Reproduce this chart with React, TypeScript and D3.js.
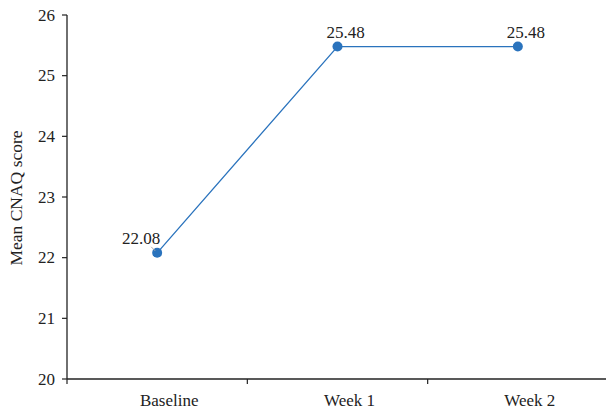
import React from "react";
import * as d3 from "d3";

const categories = ["Baseline", "Week 1", "Week 2"];
const values = [22.08, 25.48, 25.48];
const valueLabels = ["22.08", "25.48", "25.48"];
const yTicks = [20, 21, 22, 23, 24, 25, 26];

const W = 606;
const H = 411;
const FONT = "'Liberation Serif', 'Times New Roman', serif";
const FS = 17;

export default function App() {
  const x = d3.scaleBand<string>().domain(categories).range([67, 608]);
  const y = d3.scaleLinear().domain([20, 26]).range([379, 15]);
  const cx = (c: string) => (x(c) as number) + x.bandwidth() / 2;
  const line = d3
    .line<number>()
    .x((_, i) => cx(categories[i]))
    .y((d) => y(d));
  const color = "#2A73BD";
  return (
    <svg width={W} height={H} style={{ position: "absolute", left: 0, top: 0 }}>
      <rect width={W} height={H} fill="#fff" />
      {/* y axis */}
      <line x1={67} x2={67} y1={y(26)} y2={y(20)} stroke="#222" strokeWidth={1.3} />
      {yTicks.map((t) => (
        <g key={t}>
          <line x1={62} x2={67} y1={y(t)} y2={y(t)} stroke="#222" strokeWidth={1.2} />
          <text x={55} y={y(t) + 5.5} textAnchor="end" fontFamily={FONT} fontSize={FS} fill="#222">
            {t}
          </text>
        </g>
      ))}
      {/* x axis */}
      <line x1={67} x2={606} y1={y(20)} y2={y(20)} stroke="#222" strokeWidth={1.3} />
      {categories.map((c) => (
        <g key={c}>
          <line x1={x(c)} x2={x(c)} y1={y(20)} y2={y(20) + 5} stroke="#222" strokeWidth={1.2} />
          <text x={cx(c) + 12} y={406} textAnchor="middle" fontFamily={FONT} fontSize={FS} fill="#222">
            {c}
          </text>
        </g>
      ))}
      <text
        transform={`translate(22,198) rotate(-90)`}
        textAnchor="middle"
        fontFamily={FONT}
        fontSize={17.5}
        fill="#222"
      >
        Mean CNAQ score
      </text>
      <path d={line(values) || ""} fill="none" stroke={color} strokeWidth={1.3} />
      {values.map((v, i) => (
        <circle key={i} cx={cx(categories[i])} cy={y(v)} r={5} fill={color} />
      ))}
      {/* leader line for first label */}
      <line
        x1={cx(categories[0]) - 6}
        y1={y(values[0]) - 6}
        x2={cx(categories[0]) - 2}
        y2={y(values[0]) - 2}
        stroke="#aaa"
        strokeWidth={1}
      />
      {values.map((v, i) => {
        const px = cx(categories[i]);
        const py = y(v);
        const dx = i === 0 ? -16 : 8;
        const dy = i === 0 ? -9 : -9;
        return (
          <text key={i} x={px + dx} y={py + dy} textAnchor="middle" fontFamily={FONT} fontSize={FS} fill="#222">
            {valueLabels[i]}
          </text>
        );
      })}
    </svg>
  );
}
